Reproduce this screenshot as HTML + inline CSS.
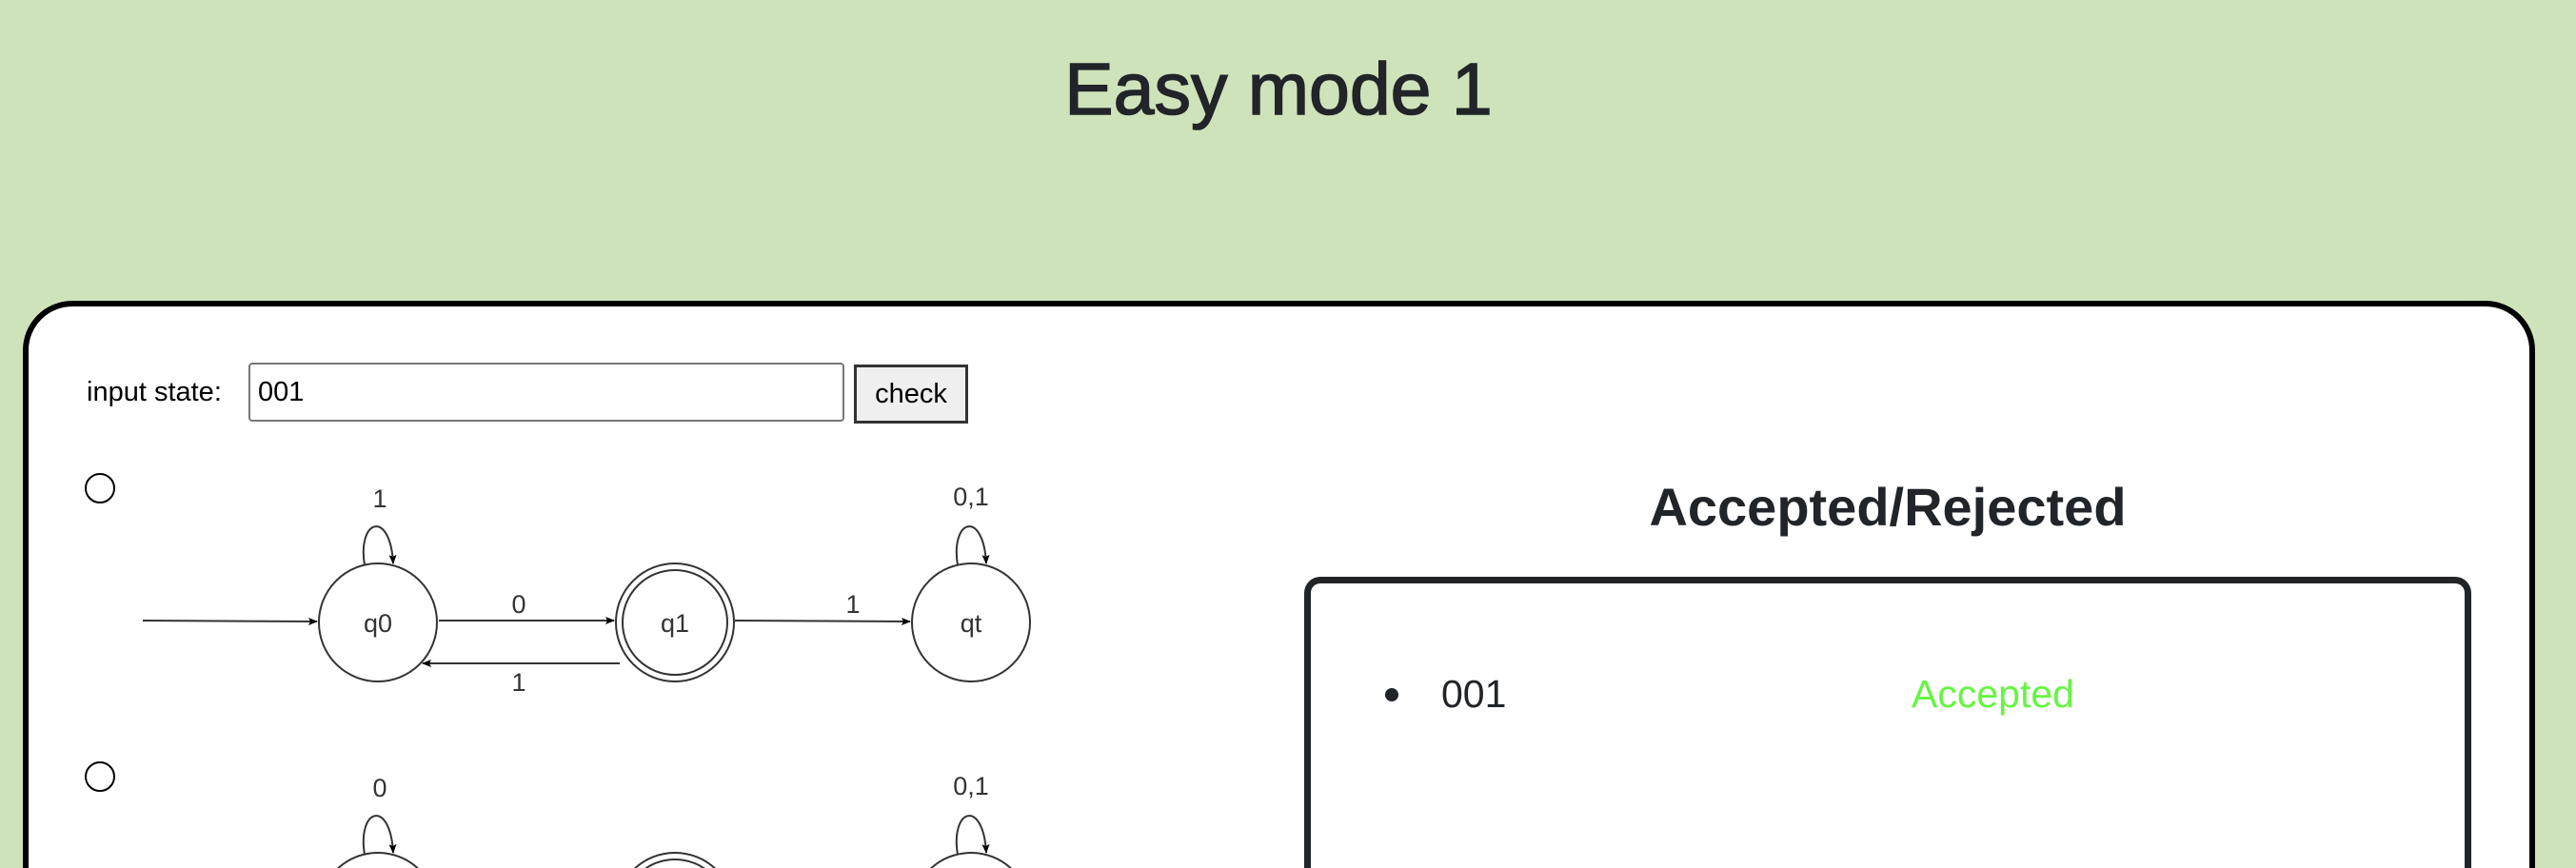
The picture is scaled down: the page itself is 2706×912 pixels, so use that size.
<!DOCTYPE html>
<html style="margin:0;width:2706px;height:912px;overflow:hidden"><head><meta charset="utf-8"><style>
body{margin:0;width:2706px;height:912px;background:#cfe3bb;overflow:hidden;position:relative;font-family:"Liberation Sans",Arial,sans-serif;color:#212529}
#wrap{position:absolute;left:0;top:0;width:2706px;height:912px;overflow:hidden}
.a{position:absolute}
</style></head><body><div id="wrap">
<div class="a" style="left:0;width:2686px;top:44px;text-align:center;font-size:77px;line-height:100px;-webkit-text-stroke:1.5px #212529">Easy mode 1</div>
<div class="a" style="left:24px;top:316px;width:2627px;height:590px;background:#fff;border:6px solid #000;border-bottom:none;border-radius:52px 52px 0 0;"></div>
<div class="a" style="left:91px;top:392px;font-size:29px;line-height:40px;color:#000">input state:</div>
<div class="a" style="left:261px;top:381px;width:614px;height:58px;border:2px solid #767676;border-radius:4px;background:#fff;font-size:29px;line-height:58px;color:#000;padding-left:8px;box-sizing:content-box">001</div>
<div class="a" style="left:897px;top:383px;width:114px;height:56px;border:3px solid #333;background:#efefef;font-size:29px;line-height:56px;text-align:center;color:#000;box-sizing:content-box">check</div>
<svg class="a" style="left:0;top:0" width="2706" height="912">
<defs><marker id="ah" markerWidth="10" markerHeight="10" refX="9" refY="5" orient="auto" markerUnits="userSpaceOnUse"><path d="M0,1 L10,5 L0,9 L2,5Z" fill="#000"/></marker></defs>
<circle cx="105" cy="513" r="15" fill="#fff" stroke="#000" stroke-width="2"/>
<circle cx="105" cy="816" r="15" fill="#fff" stroke="#000" stroke-width="2"/>
<g fill="none" stroke="#333" stroke-width="2" font-size="27" font-family="Liberation Sans,sans-serif">
<line x1="150" y1="652" x2="333" y2="653" marker-end="url(#ah)"/>
<circle cx="397" cy="654" r="62"/>
<circle cx="709" cy="654" r="62"/><circle cx="709" cy="654" r="55"/>
<circle cx="1020" cy="654" r="62"/>
<line x1="461" y1="652" x2="645" y2="652" marker-end="url(#ah)"/>
<line x1="651" y1="697" x2="444" y2="697" marker-end="url(#ah)"/>
<line x1="772" y1="652" x2="956" y2="653" marker-end="url(#ah)"/>
<path d="M383,594 C375,545 410,535 413,592" marker-end="url(#ah)"/>
<path d="M1006,594 C998,545 1033,535 1036,592" marker-end="url(#ah)"/>
<g fill="#333" stroke="none" text-anchor="middle">
<text x="397" y="664">q0</text><text x="709" y="664">q1</text><text x="1020" y="664">qt</text>
<text x="545" y="644">0</text><text x="545" y="726">1</text><text x="896" y="644">1</text>
<text x="399" y="533">1</text><text x="1020" y="531">0,1</text></g>
</g>
<g fill="none" stroke="#333" stroke-width="2" font-size="27" font-family="Liberation Sans,sans-serif" transform="translate(0,304)">
<circle cx="397" cy="654" r="62"/>
<circle cx="709" cy="654" r="62"/><circle cx="709" cy="654" r="55"/>
<circle cx="1020" cy="654" r="62"/>
<path d="M383,594 C375,545 410,535 413,592" marker-end="url(#ah)"/>
<path d="M1006,594 C998,545 1033,535 1036,592" marker-end="url(#ah)"/>
<g fill="#333" stroke="none" text-anchor="middle"><text x="399" y="533">0</text><text x="1020" y="531">0,1</text></g>
</g>
</svg>
<div class="a" style="left:1583px;width:800px;top:498px;text-align:center;font-size:56px;font-weight:bold;line-height:70px">Accepted/Rejected</div>
<div class="a" style="left:1370px;top:606px;width:1212px;height:299px;border:7px solid #212529;border-bottom:none;border-radius:17px 17px 0 0;background:#fff"></div>
<div class="a" style="left:1455px;top:723px;width:14px;height:14px;border-radius:50%;background:#212529"></div>
<div class="a" style="left:1514px;top:704px;font-size:41px;line-height:50px">001</div>
<div class="a" style="left:2008px;top:704px;font-size:41px;line-height:50px;color:#66f542">Accepted</div>
</div></body></html>
